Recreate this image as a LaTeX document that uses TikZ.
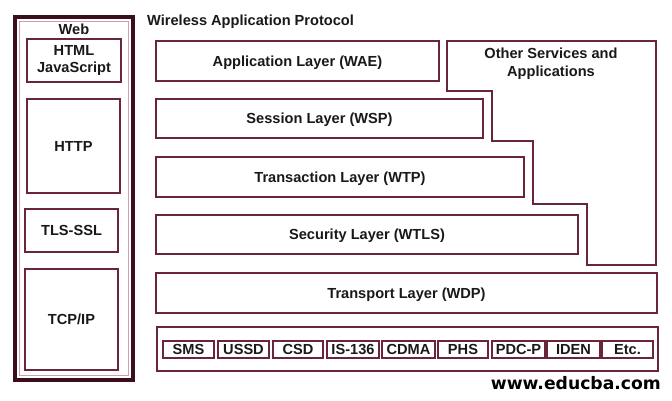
\documentclass[tikz,border=0pt]{standalone}
\usepackage{fontspec}
\setmainfont{Liberation Sans}
\newfontfamily\urlfont{DejaVu Sans}
\definecolor{frame}{HTML}{3A0E1C}
\definecolor{edge}{HTML}{6A2638}
\definecolor{thinl}{HTML}{C9A2AC}
\begin{document}
\begin{tikzpicture}[x=1pt,y=-1pt,
  lbl/.style={font=\fontsize{14.6}{17.5}\selectfont\bfseries, text=black!90, align=center, inner sep=0pt},
  boxn/.style={draw=edge, line width=1.6pt, fill=white, inner sep=0pt, lbl},
  cell/.style={draw=edge, line width=1.1pt, inner sep=0pt, lbl, text depth=0pt}]
\useasboundingbox (0,0) rectangle (672,401);
% Web column
\draw[frame, line width=4pt] (15,17) rectangle (133,380);
\draw[thinl, line width=0.6pt] (19.5,21.5) rectangle (128.5,375.5);
\node[lbl] (web) at (74,29) {Web};
\node[boxn, minimum width=94pt, minimum height=43pt] (html) at (74,60.5) {HTML\\JavaScript};
\node[boxn, minimum width=93pt, minimum height=94pt] (http) at (73.5,146) {HTTP};
\node[boxn, minimum width=93pt, minimum height=43pt] (tls) at (71.5,230.5) {TLS-SSL};
\node[boxn, minimum width=93pt, minimum height=101pt] (tcp) at (71.5,319.5) {TCP/IP};
% WAP
\node[lbl, anchor=west] (wap) at (147,22) {Wireless Application Protocol};
\node[boxn, text depth=0pt, minimum width=283pt, minimum height=40pt] (wae) at (297.5,61) {Application Layer (WAE)};
\node[boxn, text depth=0pt, minimum width=327pt, minimum height=39pt] (wsp) at (319.5,118.5) {Session Layer (WSP)};
\node[boxn, text depth=0pt, minimum width=368pt, minimum height=40pt] (wtp) at (340,177) {Transaction Layer (WTP)};
\node[boxn, text depth=0pt, minimum width=422pt, minimum height=39pt] (wtls) at (367,234.5) {Security Layer (WTLS)};
\draw[edge, line width=1.6pt] (447,41) -- (447,91) -- (492,91) -- (492,141) -- (533,141) -- (533,204) -- (587,204) -- (587,265) -- (656,265) -- (656,41) -- cycle;
\node[lbl] (other) at (551,63.5) {Other Services and\\Applications};
\node[boxn, text depth=0pt, minimum width=501pt, minimum height=40pt] (wdp) at (406.5,293) {Transport Layer (WDP)};
\node[boxn, minimum width=501pt, minimum height=44pt] (bearer) at (407.5,349) {};
\node[cell, minimum width=51pt, minimum height=17pt] (sms) at (188.5,349.5) {SMS};
\node[cell, minimum width=51pt, minimum height=17pt] (ussd) at (243.5,349.5) {USSD};
\node[cell, minimum width=50pt, minimum height=17pt] (csd) at (298,349.5) {CSD};
\node[cell, minimum width=52pt, minimum height=17pt] (is) at (353,349.5) {IS-136};
\node[cell, minimum width=53pt, minimum height=17pt] (cdma) at (408.5,349.5) {CDMA};
\node[cell, minimum width=50pt, minimum height=17pt] (phs) at (463,349.5) {PHS};
\node[cell, minimum width=53pt, minimum height=17pt] (pdc) at (518.5,349.5) {PDC-P};
\node[cell, minimum width=53pt, minimum height=17pt] (iden) at (573.5,349.5) {IDEN};
\node[cell, minimum width=51pt, minimum height=17pt] (etc) at (627.5,349.5) {Etc.};
\node[font=\urlfont\fontsize{17.2}{19}\selectfont\bfseries, anchor=east, inner sep=0pt] (url) at (661,383) {www.educba.com};
\end{tikzpicture}
\end{document}
